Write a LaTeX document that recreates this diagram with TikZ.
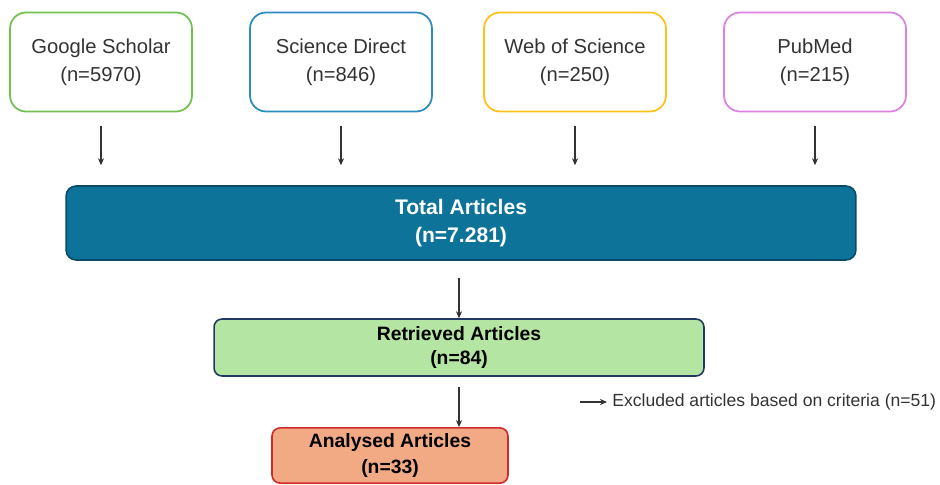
\documentclass[tikz,border=0pt]{standalone}
\usepackage{fontspec}
\setmainfont{Liberation Sans}
\usetikzlibrary{calc,arrows.meta}
\definecolor{gsgreen}{HTML}{72C14F}
\definecolor{sdblue}{HTML}{2B8CC0}
\definecolor{wosyellow}{HTML}{FFC21A}
\definecolor{pmpink}{HTML}{DC82E0}
\definecolor{totalfill}{HTML}{0E7399}
\definecolor{totaldraw}{HTML}{0A4A66}
\definecolor{retfill}{HTML}{B4E5A2}
\definecolor{retdraw}{HTML}{1F3864}
\definecolor{anafill}{HTML}{F2AA84}
\definecolor{anadraw}{HTML}{D02A2A}
\definecolor{textgrey}{HTML}{333333}

\begin{document}
\begin{tikzpicture}[x=0.02cm,y=-0.02cm,
    srcbox/.style={draw,line width=1pt,rounded corners=0.32cm,minimum width=3.64cm,
      minimum height=1.98cm,align=center,font=\fontsize{11.5}{16}\selectfont,text=textgrey},
    stagebox/.style={draw,line width=0.9pt,align=center,text=black},
    flowarrow/.style={-{Stealth[length=4pt,width=3.5pt]},line width=0.6pt,black!80}]
    \useasboundingbox (0,0) rectangle (940,484);

    \node[stagebox,fill=totalfill,draw=totaldraw,text=white,rounded corners=0.2cm,
      minimum width=15.8cm,minimum height=1.48cm,font=\bfseries\fontsize{12}{15.5}\selectfont]
      (total) at (461,223) {Total Articles\\(n=7.281)};
    \node[stagebox,fill=retfill,draw=retdraw,rounded corners=0.16cm,
      minimum width=9.8cm,minimum height=1.14cm,font=\bfseries\fontsize{11}{13.5}\selectfont]
      (ret) at (459,347.5) {Retrieved Articles\\(n=84)};
    \node[stagebox,fill=anafill,draw=anadraw,rounded corners=0.16cm,
      minimum width=4.72cm,minimum height=1.1cm,font=\bfseries\fontsize{11}{14.5}\selectfont]
      (ana) at (390,455.5) {Analysed Articles\\(n=33)};

    % the four databases
    \foreach \nm/\xx/\col/\txt/\num in {gs/101/gsgreen/Google Scholar/5970,
        sd/341/sdblue/Science Direct/846,
        wos/575/wosyellow/Web of Science/250,
        pm/815/pmpink/PubMed/215}{
      \node[srcbox,draw=\col] (\nm) at (\xx,62) {\txt\\(n=\num)};
      \draw[flowarrow,shorten <=0.28cm,shorten >=0.4cm] (\nm.south) -- (\nm.south |- total.north);
    }

    \draw[flowarrow,shorten <=0.34cm] (total.south -| ret.north) -- (ret.north);
    \draw[flowarrow,shorten <=0.2cm] (ret.south) -- (ret.south |- ana.north);

    \node[anchor=west,inner sep=0pt,font=\fontsize{10}{12}\selectfont,text=textgrey]
      (excl) at (612,402) {Excluded articles based on criteria (n=51)};
    \coordinate (exclstart) at (580,402);
    \draw[flowarrow,shorten >=0.1cm] (exclstart) -- (excl.west);
\end{tikzpicture}
\end{document}
